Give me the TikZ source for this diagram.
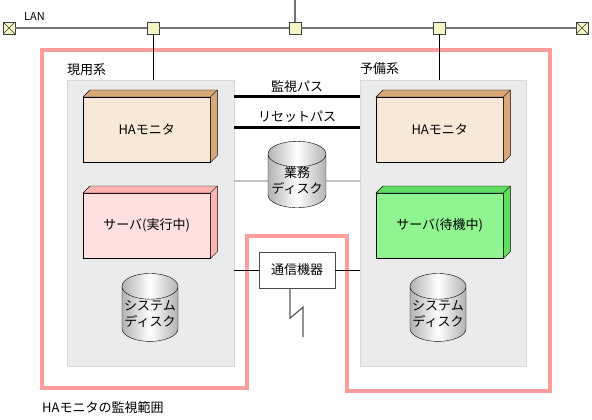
\documentclass[tikz,border=0pt]{standalone}
\usepackage{fontspec}
\setmainfont{Noto Sans CJK JP}
\usetikzlibrary{shapes.geometric,calc}
\definecolor{hafront}{HTML}{F8E8D8}
\definecolor{haside}{HTML}{D8A878}
\definecolor{svfront}{HTML}{FFE0E0}
\definecolor{svside}{HTML}{FFB4B4}
\definecolor{sbfront}{HTML}{90F490}
\definecolor{sbside}{HTML}{60DC60}
\definecolor{sitegray}{HTML}{EBEBEB}
\definecolor{rangepink}{HTML}{FF9C9C}
\definecolor{lanyellow}{HTML}{F4F4C4}
\tikzset{
    every node/.style = {font=\fontsize{13}{16}\selectfont},
    junction/.style = {rectangle,
                    fill=lanyellow,
                    draw=black!75,
                    minimum size=12pt,
                    inner sep=0pt},
    term/.style =   {junction,
                    path picture={\draw[black!75]
                        (path picture bounding box.north west) -- (path picture bounding box.south east)
                        (path picture bounding box.south west) -- (path picture bounding box.north east);}},
    site/.style =   {rectangle,
                    fill=sitegray,
                    draw=black!15,
                    anchor=north west,
                    minimum height=286pt},
    front/.style =  {rectangle,
                    draw=black,
                    anchor=north west,
                    minimum width=127pt,
                    minimum height=65pt},
    disk/.style =   {cylinder,
                    shape border rotate=90,
                    aspect=0.5,
                    draw=black,
                    left color=black!30,
                    right color=black!30,
                    middle color=white,
                    align=center,
                    inner sep=0pt},
    commbox/.style = {rectangle,
                    draw=black!70,
                    fill=white,
                    minimum width=76pt,
                    minimum height=36pt},
    ctrlpath/.style = {line width=3pt, draw=black},
    link/.style =   {draw=black!65, line width=0.8pt},
    label/.style =  {inner sep=0pt}
}
\newcommand{\cuboid}[5]{%
    \node[front, fill=#3] (#1) at #2 {#5};
    \draw[fill=#4] (#1.north west) -- ([shift={(7,-7)}]#1.north west)
        -- ([shift={(7,-7)}]#1.north east) -- ([shift={(7,-7)}]#1.south east)
        -- (#1.south east) -- (#1.north east) -- cycle;
    \draw (#1.north east) -- ([shift={(7,-7)}]#1.north east);
}
\begin{document}
\begin{tikzpicture}[x=1pt,y=-1pt]
    \useasboundingbox (0,0) rectangle (592,420);
    % LAN
    \node[term]     (termL) at (9,28)   {};
    \node[term]     (termR) at (582,28) {};
    \node[junction] (j1)    at (153,28) {};
    \node[junction] (j2)    at (295,28) {};
    \node[junction] (j3)    at (439,28) {};
    \coordinate (lanup) at (295,0);
    \draw[black!55, line width=1.5pt] (termL) -- (j1) -- (j2) -- (j3) -- (termR);
    \draw[black!55, line width=1.5pt] (j2) -- (lanup);
    \node[label, anchor=west, font=\fontsize{11}{13}\selectfont] (lan) at (24,16) {LAN};
    % range of the HA monitor
    \draw[rangepink, line width=4.5pt] (42,50) -- (550,50) -- (550,391) -- (347,391)
        -- (347,236) -- (247,236) -- (247,388) -- (42,388) -- cycle;
    \node[label, anchor=west] (range) at (42,408) {HAモニタの監視範囲};
    % sites
    \node[site, minimum width=167pt] (act) at (67,80)  {};
    \node[site, minimum width=166pt] (sby) at (360,80) {};
    \node[label, anchor=west] (actlbl) at (67,70) {現用系};
    \node[label, anchor=west] (sbylbl) at (360,69) {予備系};
    \draw (j1) -- (act.north -| j1);
    \draw (j3) -- (sby.north -| j3);
    % HA monitors and servers
    \cuboid{hmA}{(83,97)}{hafront}{haside}{HAモニタ}
    \cuboid{hmB}{(376,97)}{hafront}{haside}{HAモニタ}
    \cuboid{svA}{(83,193)}{svfront}{svside}{サーバ(実行中)}
    \cuboid{svB}{(376,193)}{sbfront}{sbside}{サーバ(待機中)}
    % monitor and reset paths
    \coordinate (mon)   at (297,97);
    \coordinate (reset) at (297,127);
    \draw[ctrlpath] (act.east |- mon) -- (sby.west |- mon);
    \draw[ctrlpath] (act.east |- reset) -- (sby.west |- reset);
    \node[label, anchor=south] (monlbl)   at ($(mon)+(0,-4)$)   {監視パス};
    \node[label, anchor=south] (resetlbl) at ($(reset)+(0,-4)$) {リセットパス};
    % disks
    \node[disk, minimum width=58pt, minimum height=65pt] (bdisk) at (297,181) {業務\\ディスク};
    \draw[link] (act.east |- bdisk) -- (bdisk.west);
    \draw[link] (bdisk.east) -- (sby.west |- bdisk);
    \node[disk, minimum width=56pt, minimum height=68pt] (sdA) at (150,314) {システム\\ディスク};
    \node[disk, minimum width=56pt, minimum height=68pt] (sdB) at (438,314) {システム\\ディスク};
    % communication device
    \node[commbox] (comm) at (297,270) {通信機器};
    \draw (act.east |- comm) -- (comm.west);
    \draw (comm.east) -- (sby.west |- comm);
    \draw[black!65, line width=1.2pt] ([xshift=-7pt]comm.south) -- ++(0,30) -- ++(13,-11) -- ++(0,30);
\end{tikzpicture}
\end{document}
